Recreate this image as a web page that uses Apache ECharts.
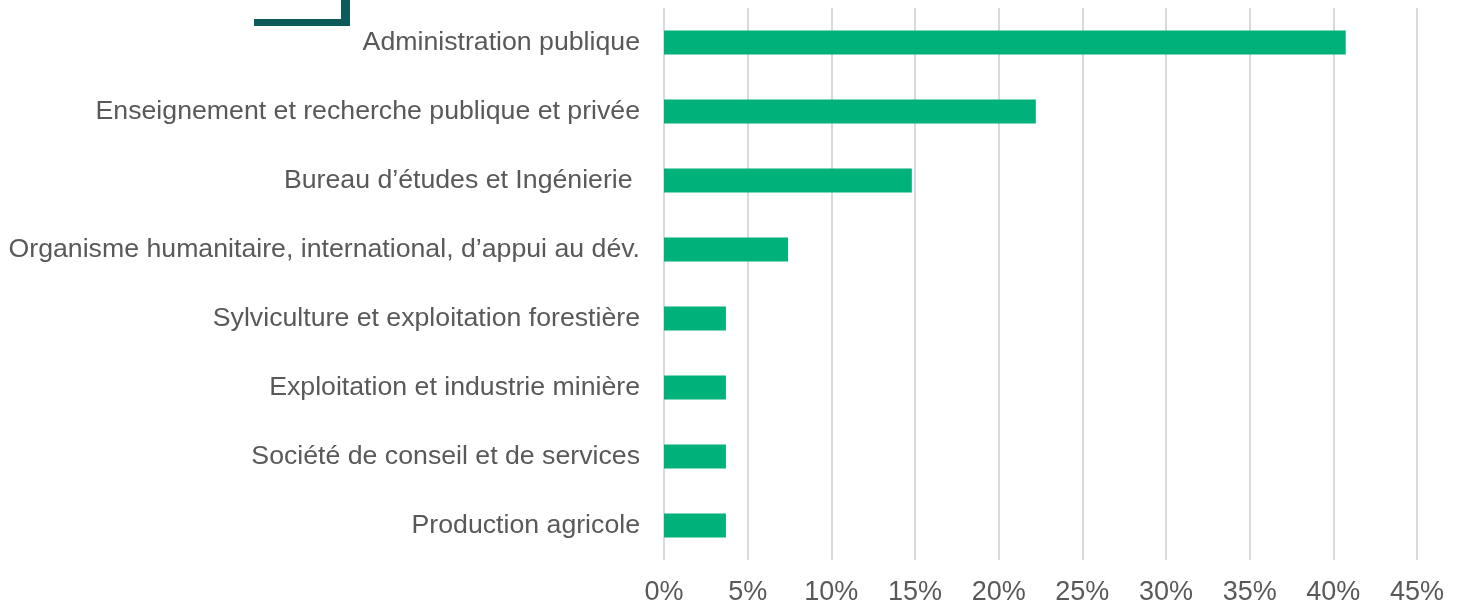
<!DOCTYPE html>
<html>
<head>
<meta charset="utf-8">
<script src="https://cdn.jsdelivr.net/npm/echarts@6/dist/echarts.min.js"></script>
<style>
  html, body { margin: 0; padding: 0; background: #fff; }
  #chart { width: 1461px; height: 607px; }
</style>
</head>
<body>
<div id="chart"></div>
<script>
// secteurs d'activité (du haut vers le bas)
const categories = [
  'Administration publique',
  'Enseignement et recherche publique et privée',
  'Bureau d\u2019études et Ingénierie ',
  'Organisme humanitaire, international, d\u2019appui au dév.',
  'Sylviculture et exploitation forestière',
  'Exploitation et industrie minière',
  'Société de conseil et de services',
  'Production agricole'
]
// parts en %
const shares = [40.74, 22.22, 14.81, 7.41, 3.70, 3.70, 3.70, 3.70]
const xTicks = [0, 5, 10, 15, 20, 25, 30, 35, 40, 45]

const textColor = '#595959'
const font = 'Liberation Sans, Arial, sans-serif'

const chart = echarts.init(document.getElementById('chart'))

chart.setOption({
  animation: false,
  grid: { left: 664, right: 44, top: 8, bottom: 47, containLabel: false },
  xAxis: {
    type: 'value',
    min: xTicks[0],
    max: xTicks[xTicks.length - 1],
    interval: 5,
    axisLine: { show: false },
    axisTick: { show: false },
    axisLabel: {
      formatter: v => v + '%',
      color: textColor,
      fontFamily: font,
      fontSize: 27,
      margin: 19
    },
    splitLine: { show: true, lineStyle: { color: '#d9d9d9', width: 2 } }
  },
  yAxis: {
    type: 'category',
    inverse: true,
    data: categories,
    axisLine: { show: false },
    axisTick: { show: false },
    axisLabel: {
      color: textColor,
      fontFamily: font,
      fontSize: 26.7,
      margin: 24
    }
  },
  series: [{
    type: 'bar',
    data: shares,
    barWidth: 24,
    itemStyle: { color: '#00b27a' }
  }],
  graphic: [
    // petit cadre décoratif en haut à gauche
    { type: 'rect', shape: { x: 254, y: 19, width: 96, height: 7 }, style: { fill: '#0d5a5a' } },
    { type: 'rect', shape: { x: 341, y: 0, width: 9, height: 26 }, style: { fill: '#0d5a5a' } }
  ]
})
</script>
</body>
</html>
